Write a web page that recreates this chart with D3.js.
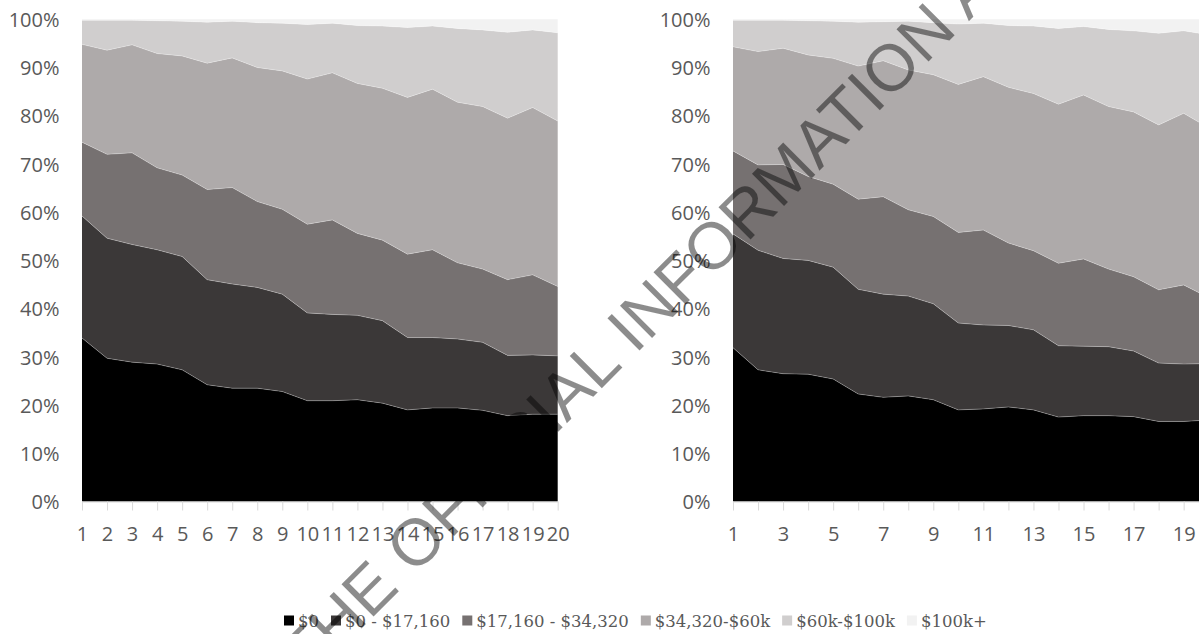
<!DOCTYPE html>
<html>
<head>
<meta charset="utf-8">
<script src="https://cdn.jsdelivr.net/npm/d3@7/dist/d3.min.js"></script>
<style>
  html, body { margin: 0; padding: 0; background: #ffffff; }
  svg { display: block; }
</style>
</head>
<body>
<svg id="chart" width="1199" height="634"></svg>
<script>
// ---------- DATA ----------
const categories = [1, 2, 3, 4, 5, 6, 7, 8, 9, 10, 11, 12, 13, 14, 15, 16, 17, 18, 19, 20];
const seriesNames = ["$0", "$0 - $17,160", "$17,160 - $34,320", "$34,320-$60k", "$60k-$100k", "$100k+"];

// Left panel: share (%) of each band per category
const left0 = [33.9, 29.7, 28.9, 28.5, 27.3, 24.2, 23.5, 23.5, 22.8, 20.9, 20.9, 21.1, 20.4, 19.0, 19.4, 19.4, 18.9, 17.8, 18.1, 18.1];
const left1 = [25.3, 24.9, 24.4, 23.7, 23.5, 21.8, 21.6, 20.9, 20.2, 18.2, 17.9, 17.5, 17.1, 15.0, 14.6, 14.3, 14.1, 12.5, 12.3, 12.1];
const left2 = [15.3, 17.4, 19.0, 17.0, 16.9, 18.7, 20.0, 17.8, 17.6, 18.4, 19.6, 17.0, 16.7, 17.3, 18.2, 15.8, 15.2, 15.7, 16.6, 14.4];
const left3 = [20.3, 21.6, 22.4, 23.7, 24.7, 26.2, 26.9, 27.8, 28.7, 30.1, 30.5, 31.1, 31.5, 32.5, 33.3, 33.3, 33.7, 33.5, 34.7, 34.3];
const left4 = [5.0, 6.2, 5.1, 6.8, 7.2, 8.5, 7.6, 9.3, 9.9, 11.3, 10.3, 12.0, 12.9, 14.5, 13.1, 15.3, 15.9, 17.8, 16.1, 18.3];
const left5 = [0.2, 0.2, 0.2, 0.3, 0.4, 0.6, 0.4, 0.7, 0.8, 1.1, 0.8, 1.3, 1.4, 1.7, 1.4, 1.9, 2.2, 2.7, 2.2, 2.8];

// Right panel
const right0 = [31.9, 27.3, 26.5, 26.4, 25.4, 22.3, 21.6, 21.9, 21.1, 19.0, 19.2, 19.6, 19.0, 17.5, 17.8, 17.8, 17.6, 16.6, 16.6, 16.9];
const right1 = [23.6, 24.8, 23.9, 23.6, 23.2, 21.7, 21.4, 20.7, 19.9, 18.0, 17.4, 16.9, 16.6, 14.8, 14.4, 14.3, 13.6, 12.1, 11.9, 11.7];
const right2 = [17.2, 17.7, 19.5, 17.4, 17.2, 18.7, 20.2, 17.9, 18.1, 18.8, 19.7, 17.1, 16.4, 17.1, 18.1, 16.1, 15.4, 15.2, 16.4, 13.7];
const right3 = [21.6, 23.5, 24.1, 25.2, 26.1, 27.6, 28.2, 29.0, 29.4, 30.7, 31.8, 32.3, 32.6, 33.0, 34.0, 33.7, 34.2, 34.2, 35.6, 35.2];
const right4 = [5.5, 6.5, 5.8, 7.1, 7.7, 9.1, 8.1, 10.1, 10.8, 12.5, 11.1, 12.8, 14.0, 15.7, 14.2, 16.0, 16.8, 19.0, 17.1, 19.3];
const right5 = [0.2, 0.2, 0.2, 0.3, 0.4, 0.6, 0.5, 0.4, 0.7, 1.0, 0.8, 1.3, 1.4, 1.9, 1.5, 2.1, 2.4, 2.9, 2.4, 3.2];

const yTickValues = [0, 0.1, 0.2, 0.3, 0.4, 0.5, 0.6, 0.7, 0.8, 0.9, 1.0];
const rightLabelledCategories = [1, 3, 5, 7, 9, 11, 13, 15, 17, 19];

const watermarkText = "THE OFFICIAL INFORMATION ACT";

// ---------- STYLE ----------
const colors = ["#000000", "#3b3838", "#767171", "#aeaaaa", "#d0cece", "#f2f2f2"];
const axisFont = "'Open Sans', 'Liberation Sans', sans-serif";
const textColor = "#595959";

const svg = d3.select("#chart");
const keys = seriesNames;

function buildRows(arrs) {
  return categories.map((c, i) => {
    const row = { cat: c };
    keys.forEach((k, j) => { row[k] = arrs[j][i]; });
    return row;
  });
}

function drawPanel(arrs, x0, x1, labelFilter) {
  const yTop = 19.3, yBottom = 501.5;
  const x = d3.scalePoint().domain(categories).range([x0, x1]);
  const y = d3.scaleLinear().domain([0, 1]).range([yBottom, yTop]);

  const rows = buildRows(arrs);
  const stacked = d3.stack().keys(keys).offset(d3.stackOffsetExpand)(rows);

  const g = svg.append("g");
  const area = d3.area()
    .x(d => x(d.data.cat))
    .y0(d => y(d[0]))
    .y1(d => y(d[1]));
  const topLine = d3.line()
    .x(d => x(d.data.cat))
    .y(d => y(d[1]));

  g.selectAll("path.band")
    .data(stacked)
    .join("path")
    .attr("class", "band")
    .attr("d", area)
    .attr("fill", (d, i) => colors[i]);

  g.selectAll("path.edge")
    .data(stacked.slice(0, 5))
    .join("path")
    .attr("class", "edge")
    .attr("d", topLine)
    .attr("fill", "none")
    .attr("stroke", "#ffffff")
    .attr("stroke-opacity", 0.35)
    .attr("stroke-width", 0.8);

  // Y axis
  const yAxis = d3.axisLeft(y)
    .tickValues(yTickValues)
    .tickFormat(d3.format(".0%"))
    .tickSize(0)
    .tickPadding(22.5);
  const gy = svg.append("g").attr("transform", `translate(${x0},0)`).call(yAxis);
  gy.select(".domain").remove();
  gy.selectAll("text")
    .attr("fill", textColor)
    .attr("font-family", axisFont)
    .attr("font-size", 20)
    .attr("dy", "0.36em");

  // X axis
  const xAxis = d3.axisBottom(x).tickSize(9).tickSizeOuter(0).tickFormat(d => String(d));
  const gx = svg.append("g").attr("transform", `translate(0,${yBottom})`).call(xAxis);
  gx.select(".domain").attr("stroke", "#d9d9d9").attr("stroke-width", 1);
  gx.selectAll(".tick line").attr("stroke", "#d9d9d9").attr("stroke-width", 1);
  gx.selectAll("text")
    .attr("fill", textColor)
    .attr("font-family", axisFont)
    .attr("font-size", 20)
    .attr("y", 39.5)
    .attr("dy", 0);
  if (labelFilter) {
    gx.selectAll(".tick").filter(d => !labelFilter.includes(d)).select("text").remove();
  }
}

drawPanel([left0, left1, left2, left3, left4, left5], 82, 557.7, null);
drawPanel([right0, right1, right2, right3, right4, right5], 733, 1208.7, rightLabelledCategories);

// ---------- LEGEND ----------
const legend = svg.append("g").attr("font-family", "'DejaVu Serif', serif").attr("font-size", 16.5);
let lx = 284;
seriesNames.forEach((name, i) => {
  legend.append("rect")
    .attr("x", lx).attr("y", 615.5)
    .attr("width", 10).attr("height", 10)
    .attr("fill", colors[i]);
  const t = legend.append("text")
    .attr("x", lx + 14).attr("y", 627)
    .attr("fill", textColor)
    .text(name);
  const w = t.node().getComputedTextLength();
  lx += 14 + w + 12;
});

// ---------- WATERMARK ----------
const wm = svg.append("g")
  .attr("transform", "translate(307.6,682.4) rotate(-45)")
  .attr("font-family", "'Liberation Sans', Arial, sans-serif")
  .attr("font-size", 66)
  .attr("fill", "#000000")
  .attr("fill-opacity", 0.45);
wm.append("text").attr("x", 0).attr("y", 0).text(watermarkText);
</script>
</body>
</html>
